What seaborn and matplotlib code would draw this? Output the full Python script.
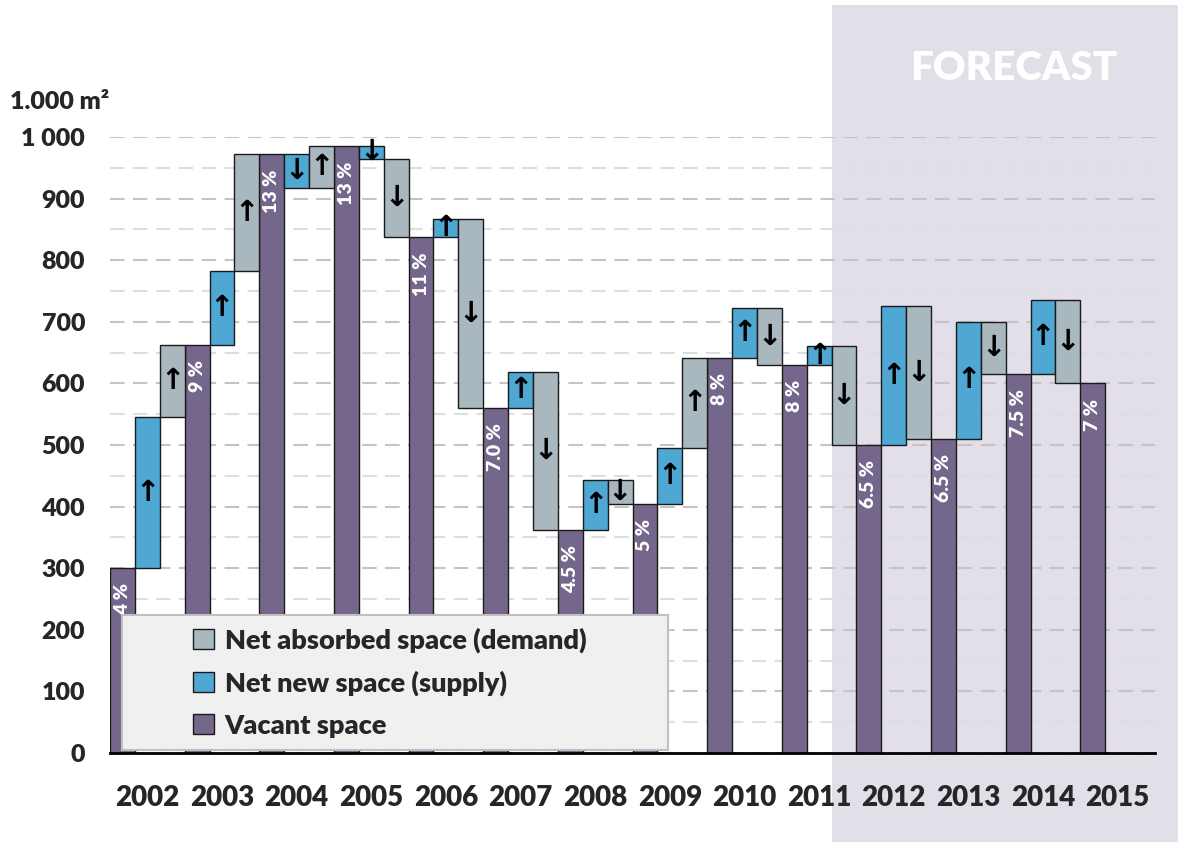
import numpy as np
import pandas as pd
import matplotlib.pyplot as plt
import seaborn as sns
from matplotlib.patches import Patch, Rectangle
from matplotlib.transforms import blended_transform_factory

years = [2002, 2003, 2004, 2005, 2006, 2007, 2008, 2009, 2010, 2011, 2012, 2013, 2014, 2015]
vacant = [300, 662, 972, 985, 837, 560, 362, 404, 642, 630, 500, 510, 615, 600]
vacancy_rate = ["4 %", "9 %", "13 %", "13 %", "11 %", "7.0 %", "4.5 %", "5 %",
                "8 %", "8 %", "6.5 %", "6.5 %", "7.5 %", "7 %"]
# net new space (supply) and net absorbed space (demand), 2002-2014
supply = [245, 120, -55, -20, 30, 58, 81, 91, 80, 30, 225, 190, 120]
absorbed = [-117, -190, -68, 128, 307, 256, 39, -147, 92, 160, 215, 85, 135]

c_vac = "#75668B"
c_sup = "#4FA8D3"
c_dem = "#A9B7BE"
c_fc = "#E2DFE9"

sns.set_style("white")
plt.rcParams['font.family'] = ['Lato', 'DejaVu Sans']
W = "heavy"

n = len(supply)
vac_df = pd.DataFrame({"pos": np.arange(len(years)) + 1/6, "h": vacant})
sup_df = pd.DataFrame({"pos": np.arange(n) + 0.5, "h": supply, "b": vacant[:n]})
dem_bottom = np.array(vacant[:n]) + np.array(supply)
dem_df = pd.DataFrame({"pos": np.arange(n) + 5/6, "h": -np.array(absorbed), "b": dem_bottom})

fig = plt.figure(figsize=(11.78, 8.42), dpi=100)
fig.patch.set_facecolor("white")
ax = fig.add_axes([110/1178, 1 - 753/842, 1045/1178, 616/842])
ax.set_facecolor("none")

# forecast shading spans beyond the axes
tr = blended_transform_factory(ax.transData, fig.transFigure)
fig.add_artist(Rectangle((9 + 2/3, 0), 20, 1 - 5/842, transform=tr,
                         facecolor=c_fc, edgecolor="none", zorder=0))
fig.text(1014/1178, 1 - 69/842, "FORECAST", color="white", fontsize=29,
         fontweight=W, ha="center", va="center")

bar_kw = dict(native_scale=True, width=1/3, saturation=1, errorbar=None,
              edgecolor="#1a1a1a", linewidth=1, zorder=2, ax=ax)
sns.barplot(data=vac_df, x="pos", y="h", color=c_vac, **bar_kw)
sns.barplot(data=sup_df, x="pos", y="h", color=c_sup, bottom=sup_df["b"].to_numpy(), **bar_kw)
sns.barplot(data=dem_df, x="pos", y="h", color=c_dem, bottom=dem_df["b"].to_numpy(), **bar_kw)

# arrows
for df in (sup_df, dem_df):
    for p, b, h in zip(df["pos"], df["b"], df["h"]):
        ax.text(p, b + h / 2, "↑" if h > 0 else "↓", ha="center", va="center",
                fontsize=21, fontweight="bold", color="black", zorder=3,
                family="DejaVu Sans")

# vacancy rate labels
for p, v, lab in zip(vac_df["pos"], vacant, vacancy_rate):
    ax.annotate(lab, (p, v), xytext=(0, -11), textcoords="offset points",
                rotation=90, ha="center", va="top", color="white",
                fontsize=14, fontweight=W, zorder=3)

ax.set_xlim(0, len(years))
ax.set_ylim(0, 1000)
ax.set_yticks(np.arange(0, 1001, 100))
ax.set_yticks(np.arange(50, 1000, 100), minor=True)
ax.set_yticklabels(["0"] + [f"{v}" for v in range(100, 1000, 100)] + ["1 000"],
                   fontsize=18, fontweight=W)
ax.yaxis.grid(True, which="major", color="#c4c4c4", linestyle=(0, (7, 4)), linewidth=1.5)
ax.yaxis.grid(True, which="minor", color="#dedede", linestyle=(0, (7, 4)), linewidth=1.5)
ax.set_axisbelow(True)
ax.tick_params(axis="y", which="both", length=0, pad=18)

ax.set_xticks(np.arange(0, len(years) + 1))
ax.set_xticklabels([])
ax.set_xticks(np.arange(len(years)) + 0.5, minor=True)
ax.set_xticklabels([str(y) for y in years], minor=True, fontsize=20, fontweight=W)
ax.tick_params(axis="x", which="major", length=10, width=2, direction="out", color="black")
ax.tick_params(axis="x", which="minor", length=0, pad=23)
ax.set_xlabel("")
ax.set_ylabel("")

for s in ["top", "right", "left"]:
    ax.spines[s].set_visible(False)
ax.spines["bottom"].set_linewidth(2)
ax.spines["bottom"].set_color("black")

fig.text(10/1178, 1 - 102/842, "1.000 m²", fontsize=18, fontweight=W,
         ha="left", va="center")

# legend box
bx0, by0 = 12/1045, 3/616
bw, bh = 546/1045, 135/616
ax.add_patch(Rectangle((bx0, by0), bw, bh, transform=ax.transAxes,
                       facecolor="#f0f0f0", edgecolor="#c0c0c0", linewidth=1.5, zorder=4))
handles = [Patch(facecolor=c_dem, edgecolor="#1a1a1a", label="Net absorbed space (demand)"),
           Patch(facecolor=c_sup, edgecolor="#1a1a1a", label="Net new space (supply)"),
           Patch(facecolor=c_vac, edgecolor="#1a1a1a", label="Vacant space")]
leg = ax.legend(handles=handles, loc="center", bbox_to_anchor=(bx0 + bw/2 - 0.005, by0 + bh/2),
                frameon=False, handlelength=0.75, handleheight=0.75, handletextpad=0.4,
                labelspacing=0.65, prop={"size": 19.5, "weight": W})
leg.set_zorder(5)

fig.savefig("out.png", dpi=100)
